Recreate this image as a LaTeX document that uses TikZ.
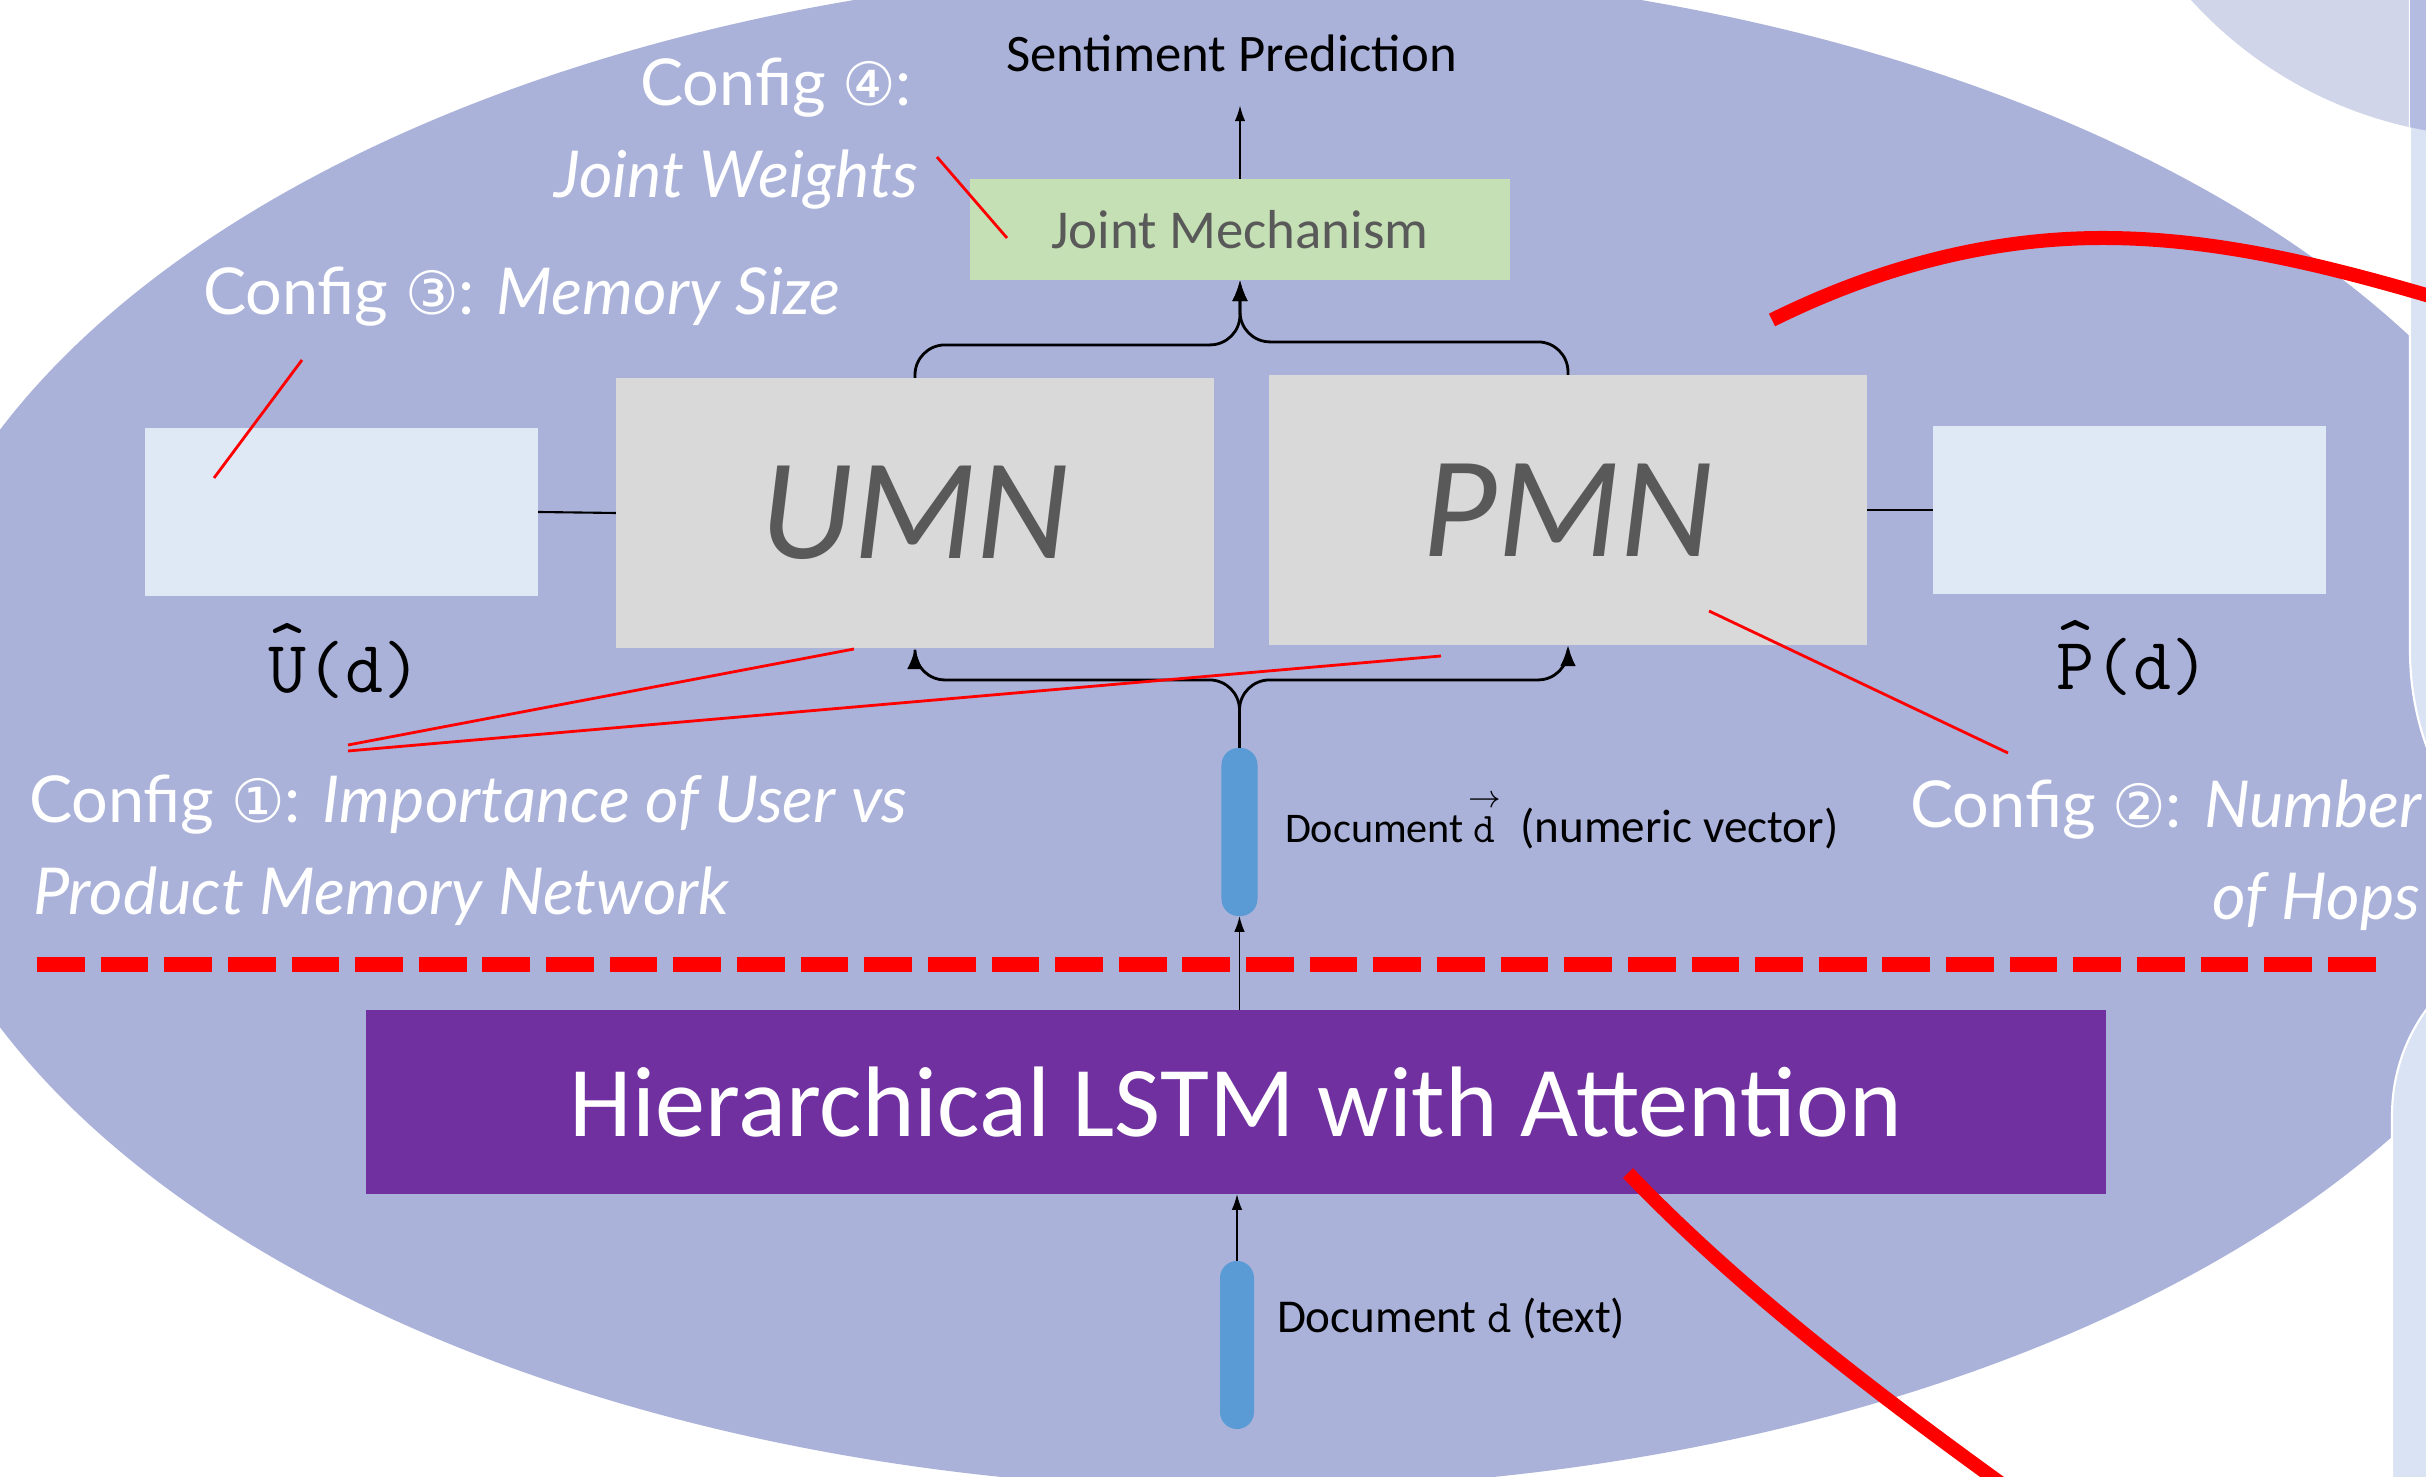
\documentclass[tikz,border=0pt]{standalone}
\usepackage{fontspec}
\setmainfont{Carlito}
\newfontfamily\cfgfont{Lato}
\newfontfamily\circfont{DejaVu Sans}
\usetikzlibrary{arrows.meta}

\definecolor{bgoval}{RGB}{170,178,218}
\definecolor{cornerdisc}{RGB}{208,213,234}
\definecolor{sidestrip}{RGB}{218,227,243}
\definecolor{stripover}{RGB}{180,189,225}
\definecolor{membox}{RGB}{222,233,245}
\definecolor{netbox}{RGB}{217,217,217}
\definecolor{nettext}{RGB}{89,89,89}
\definecolor{jointfill}{RGB}{197,224,180}
\definecolor{lstmfill}{RGB}{112,48,160}
\definecolor{docbar}{RGB}{91,155,213}

% a letter with a detached caret above it
\newcommand\hatted[1]{\setbox0\hbox{#1}\rlap{\hbox to \wd0{\hss\raisebox{0.32em}{\textasciicircum}\hss}}\box0}
% the monospaced d with a vector arrow above it
\newcommand\vecd{\setbox0\hbox{\ttfamily d}\rlap{\hbox to \wd0{\hss\raisebox{0.85em}{\fontsize{9.5}{9.5}\selectfont$\rightarrow$}\hss}}\box0}
\newcommand\circled[1]{{\circfont\fontsize{17}{20}\selectfont #1}}

\begin{document}
\begin{tikzpicture}[x=0.01cm, y=-0.01cm,
  every node/.style={inner sep=0pt, outer sep=0pt},
  memory/.style={fill=membox, minimum width=3.93cm, minimum height=1.68cm},
  network/.style={fill=netbox, minimum width=5.98cm, minimum height=2.70cm,
    text=nettext, font=\itshape\fontsize{41}{45}\selectfont},
  docbarstyle/.style={fill=docbar, rounded corners=0.17cm, minimum width=0.36cm, minimum height=1.68cm},
  cfg/.style={text=white, font=\cfgfont\fontsize{18.4}{22}\selectfont},
  hatlabel/.style={font=\ttfamily\fontsize{21}{24}\selectfont},
  doclabel/.style={font=\fontsize{12}{14}\selectfont},
  note/.style={red, line width=0.8pt},
  link/.style={line width=0.6pt},
  feed/.style={line width=0.8pt, -{Latex[length=6pt,width=4.5pt]}},
  rise/.style={line width=0.45pt, -{Latex[length=4.5pt,width=3pt]}},
  bigarc/.style={red, line width=0.14cm}
]
\clip (0,0) rectangle (2426,1477);
\fill[white] (0,0) rectangle (2426,1477);

% background shapes
\fill[cornerdisc] (2500,-280) circle[radius=417];
\fill[bgoval] (1247.5,728.5) ellipse[x radius=1356, y radius=761];
\fill[sidestrip, draw=white, line width=0.6pt, rounded corners=2.84cm] (2410,-300) rectangle (2800,935);
\begin{scope}
  \clip (2500,-280) circle[radius=417];
  \fill[stripover] (2410,-300) rectangle (2800,935);
\end{scope}
\fill[sidestrip, draw=white, line width=0.6pt, rounded corners=1.79cm] (2392,936) rectangle (2800,1700);

% separator between encoder and memory networks
\draw[red, line width=0.15cm, dash pattern=on 0.477cm off 0.159cm] (37,965) -- (2376,965);

% boxes
\node[fill=jointfill, minimum width=5.40cm, minimum height=1.01cm, text=nettext,
  font=\fontsize{15.6}{18}\selectfont] (joint) at (1240,229.5) {Joint Mechanism};
\node[memory] (umem) at (341.5,512) {};
\node[network] (umn) at (915,513) {UMN};
\node[network] (pmn) at (1568,510) {PMN};
\node[memory] (pmem) at (2129.5,510) {};
\node[fill=lstmfill, minimum width=17.38cm, minimum height=1.84cm, text=white,
  font=\fontsize{28.5}{32}\selectfont] (lstm) at (1236,1102) {Hierarchical LSTM with Attention};
\node[docbarstyle] (docv) at (1239.5,832) {};
\node[docbarstyle, minimum width=0.34cm] (doct) at (1237,1345) {};

% texts
\node[anchor=base, font=\fontsize{15}{18}\selectfont] (sent) at (1231.5,72) {Sentiment Prediction};
\node[hatlabel, anchor=base] (uhat) at (345,693) {\hatted{U}(d)};
\node[hatlabel, anchor=base] (phat) at (2133,690) {\hatted{P}(d)};
\node[doclabel, anchor=base west] (docvlab) at (1285,843)
  {Document \vecd\hspace{0.6em}{\fontsize{13.4}{16}\selectfont(numeric vector)}};
\node[anchor=base west, font=\fontsize{13.4}{16}\selectfont] (doctlab) at (1277,1333)
  {Document {\ttfamily d} (text)};

\node[cfg, anchor=base east] (cfg4a) at (912,106) {Config \circled{④}:};
\node[cfg, anchor=base east] (cfg4b) at (918,198) {\itshape Joint Weights};
\node[cfg, anchor=base west] (cfg3) at (203,315) {Config \circled{③}: \itshape Memory Size};
\node[cfg, anchor=base west] (cfg1a) at (29,823) {Config \circled{①}: \itshape Importance of User vs};
\node[cfg, anchor=base west] (cfg1b) at (33,915) {\itshape Product Memory Network};
\node[cfg, anchor=base east] (cfg2a) at (2422,828) {Config \circled{②}: \itshape Number};
\node[cfg, anchor=base east] (cfg2b) at (2420,920) {\itshape of Hops};

% connectors
\draw[link] (umem.east) -- (umn.west);
\draw[link] (pmn.east) -- (pmem.west);
\draw[rise] (joint.north) -- (joint.north |- sent.south) [shorten >=0.33cm];
\draw[feed, rounded corners=0.3cm] (umn.north) -- ++(0,-33) -| (joint.south);
\draw[feed, rounded corners=0.3cm] (pmn.north) -- ++(0,-33) -| (joint.south);
\draw[feed, rounded corners=0.3cm] (docv.north) -- ++(0,-68) -| (umn.south);
\draw[feed, rounded corners=0.3cm] (docv.north) -- ++(0,-68) -| (pmn.south);
\draw[rise] (docv.south |- lstm.north) -- (docv.south);
\draw[rise] (doct.north) -- (doct.north |- lstm.south);

% configuration pointers
\coordinate (p4a) at (937,157);   \coordinate (p4b) at (1007,238);
\coordinate (p3a) at (302,360);   \coordinate (p3b) at (214,478);
\coordinate (p1a) at (348,745);   \coordinate (p1b) at (854,649);
\coordinate (p1c) at (348,751);   \coordinate (p1d) at (1441,656);
\coordinate (p2a) at (1709,611);  \coordinate (p2b) at (2008,753);
\draw[note] (p4a) -- (p4b);
\draw[note] (p3a) -- (p3b);
\draw[note] (p1a) -- (p1b);
\draw[note] (p1c) -- (p1d);
\draw[note] (p2a) -- (p2b);

% large red arcs
\draw[bigarc] (1772,320) .. controls (1877,268) and (1988,238) .. (2103,238)
  .. controls (2223,238) and (2340,269) .. (2460,305);
\draw[bigarc] (1628,1173) .. controls (1740,1290) and (1877,1394) .. (2010,1490);
\end{tikzpicture}
\end{document}
